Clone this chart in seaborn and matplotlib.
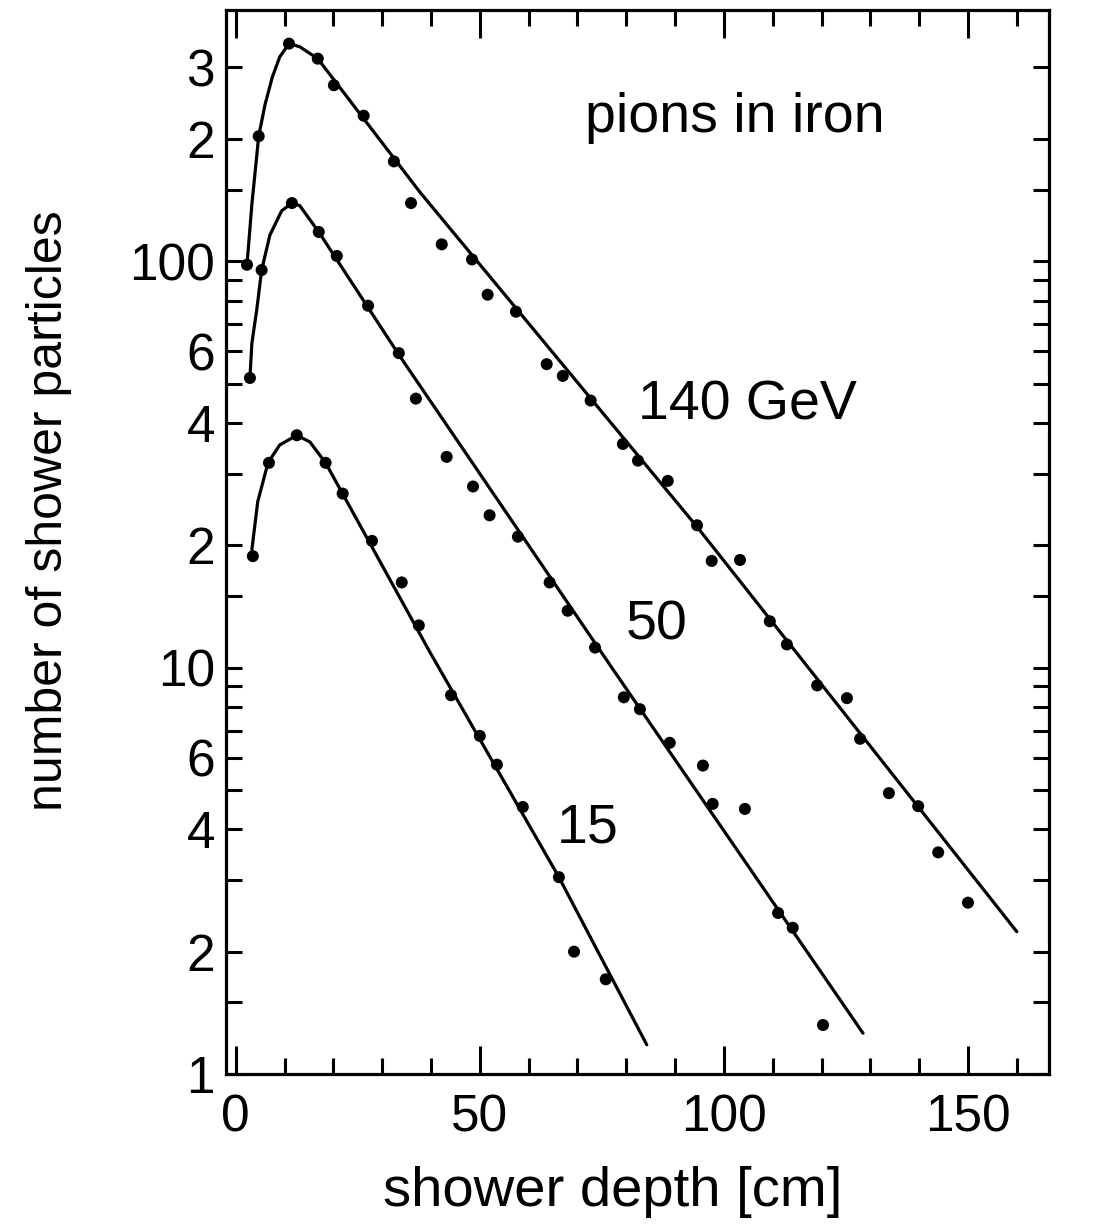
import matplotlib
matplotlib.use("Agg")
import matplotlib.pyplot as plt
import numpy as np
import pandas as pd
import seaborn as sns
from matplotlib.ticker import FixedLocator, FixedFormatter, MultipleLocator, NullLocator

# Measured longitudinal profiles of pion showers in iron
depth_140 = [2.3, 4.7, 10.9, 16.8, 20.1, 26.2, 32.4, 35.9, 42.2, 48.4, 51.6, 57.4,
             63.7, 67.0, 72.7, 79.3, 82.4, 88.5, 94.5, 97.5, 103.3, 109.4, 112.9,
             119.1, 125.2, 127.9, 133.8, 139.8, 143.9, 150.0]
n_140 = [98, 203, 343, 315, 271, 228, 176, 139, 110, 101, 82.7, 75.1,
         55.8, 52.2, 45.4, 35.5, 32.3, 28.8, 22.4, 18.3, 18.4, 13.0, 11.4,
         9.04, 8.41, 6.68, 4.91, 4.56, 3.51, 2.64]

depth_50 = [2.9, 5.3, 11.5, 17.0, 20.7, 27.1, 33.4, 36.9, 43.2, 48.6, 52.0, 57.8,
            64.3, 68.0, 73.6, 79.5, 82.8, 88.9, 95.7, 97.7, 104.3, 111.1, 114.1, 120.3]
n_50 = [51.6, 95.1, 139, 118, 103, 77.7, 59.4, 45.9, 33.0, 27.9, 23.7, 21.0,
        16.2, 13.8, 11.2, 8.45, 7.9, 6.53, 5.74, 4.62, 4.49, 2.49, 2.29, 1.32]

depth_15 = [3.5, 6.8, 12.5, 18.4, 21.9, 27.9, 34.0, 37.5, 44.1, 50.0, 53.5, 58.8,
            66.2, 69.3, 75.8]
n_15 = [18.8, 31.9, 37.3, 31.9, 26.8, 20.5, 16.2, 12.7, 8.55, 6.79, 5.77, 4.54,
        3.05, 2.0, 1.71]

# Fitted shower curves (nodes along each fit)
fit_depth_140 = [2.3, 3.3, 4.7, 6.0, 7.5, 9.0, 10.9, 13.1, 16.8, 37.7, 94.5, 160.0]
fit_n_140 = [98, 138, 203, 243, 284, 318, 343, 337, 315, 148, 22.2, 2.24]

fit_depth_50 = [2.9, 3.3, 4.3, 5.3, 7.0, 9.4, 11.5, 13.1, 17.0, 33.6, 77.3, 128.5]
fit_n_50 = [51.6, 62.8, 76, 95.1, 116, 133, 139, 137, 118, 58.4, 9.89, 1.26]

fit_depth_15 = [3.3, 4.5, 6.6, 9.0, 12.5, 15.2, 18.4, 39.8, 66.2, 84.2]
fit_n_15 = [19.5, 25.6, 31.9, 35.3, 37.3, 35.9, 31.9, 10.9, 3.05, 1.18]

energy_labels = ["140 GeV", "50", "15"]
label_pos = [(104.9, 44.1), (86.3, 12.7), (72.1, 4.01)]

y_tick_values = [1, 1.5, 2, 3, 4, 5, 6, 7, 8, 9, 10, 15, 20, 30, 40, 50, 60, 70,
                 80, 90, 100, 150, 200, 300]
y_tick_text = {1: "1", 2: "2", 4: "4", 6: "6", 10: "10", 20: "2", 40: "4",
               60: "6", 100: "100", 200: "2", 300: "3"}

sns.set_theme(style="ticks")
plt.rcParams["font.family"] = ["Liberation Sans", "DejaVu Sans"]
plt.rcParams["text.color"] = "black"
plt.rcParams["axes.labelcolor"] = "black"

points = pd.concat([
    pd.DataFrame({"depth": depth_140, "n": n_140, "E": "140"}),
    pd.DataFrame({"depth": depth_50, "n": n_50, "E": "50"}),
    pd.DataFrame({"depth": depth_15, "n": n_15, "E": "15"}),
])
fits = pd.concat([
    pd.DataFrame({"depth": fit_depth_140, "n": fit_n_140, "E": "140"}),
    pd.DataFrame({"depth": fit_depth_50, "n": fit_n_50, "E": "50"}),
    pd.DataFrame({"depth": fit_depth_15, "n": fit_n_15, "E": "15"}),
])

fig = plt.figure(figsize=(11.04, 12.28), dpi=100)
ax = fig.add_axes([226 / 1104, 1 - 1074 / 1228, (1049 - 226) / 1104, (1074 - 10) / 1228])
ax.set_yscale("log")

sns.lineplot(data=fits, x="depth", y="n", units="E", estimator=None, sort=False,
             color="black", linewidth=2.3, legend=False, ax=ax)
sns.scatterplot(data=points, x="depth", y="n", color="black", s=75,
                edgecolor="none", legend=False, ax=ax, zorder=3)

ax.set_xlim(-2, 166.6)
ax.set_ylim(1, 415)

ax.xaxis.set_major_locator(FixedLocator([0, 50, 100, 150]))
ax.xaxis.set_minor_locator(MultipleLocator(10))
ax.yaxis.set_major_locator(FixedLocator(y_tick_values))
ax.yaxis.set_major_formatter(FixedFormatter([y_tick_text.get(v, "") for v in y_tick_values]))
ax.yaxis.set_minor_locator(NullLocator())

ax.tick_params(axis="both", which="both", direction="in", top=True, right=True,
               width=2.2, color="black", labelsize=37, labelcolor="black")
ax.tick_params(axis="y", length=11.5, pad=8)
ax.tick_params(axis="x", which="major", length=20, pad=14)
ax.tick_params(axis="x", which="minor", length=11.5)

for side in ax.spines.values():
    side.set_linewidth(2.3)
    side.set_color("black")

ax.set_xlabel("shower depth [cm]", fontsize=40.5, color="black")
ax.set_ylabel("number of shower particles", fontsize=36, color="black")
ax.xaxis.set_label_coords(0.47, -0.086)
ax.yaxis.set_label_coords(-0.187, 0.529)

ax.text(102.3, 225, "pions in iron", fontsize=40, ha="center", va="center", color="black")
for txt, (x, y) in zip(energy_labels, label_pos):
    ax.text(x, y, txt, fontsize=40, ha="center", va="center", color="black")

fig.savefig("out.png", dpi=100, facecolor="white")
